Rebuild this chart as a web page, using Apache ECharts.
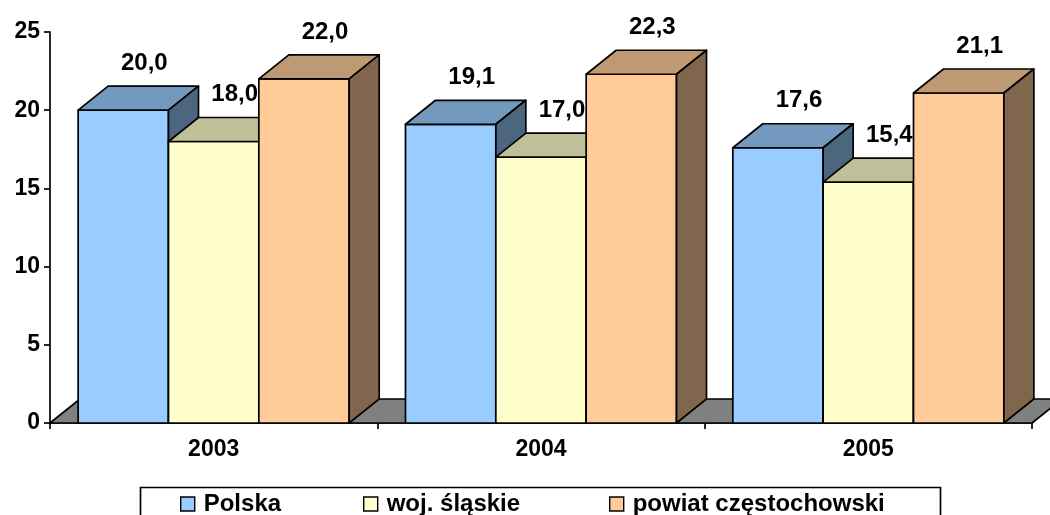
<!DOCTYPE html>
<html>
<head>
<meta charset="utf-8">
<script src="https://cdn.jsdelivr.net/npm/echarts@6/dist/echarts.min.js"></script>
<style>
  html, body { margin: 0; padding: 0; background: #fff; }
  #chart { width: 1050px; height: 515px; }
</style>
</head>
<body>
<div id="chart"></div>
<script>
// Categories and values
const years = ['2003', '2004', '2005'];
const seriesNames = ['Polska', 'woj. śląskie', 'powiat częstochowski'];
const polska = [20.0, 19.1, 17.6];
const slaskie = [18.0, 17.0, 15.4];
const powiat = [22.0, 22.3, 21.1];
const yMax = 25;
const yStep = 5;

const FONT = '"Liberation Sans", Arial, Helvetica, sans-serif';
// oblique projection of the bar depth
const DX = 30, DY = -24;

const palettes = [
  { front: '#99CCFF', top: '#7399BF', side: '#4D6680' },
  { front: '#FFFFCC', top: '#BFBF99', side: '#808066' },
  { front: '#FFCC99', top: '#BF9973', side: '#80664D' }
];

function fmt(v) { return v.toFixed(1).replace('.', ','); }

function edge(fill) {
  return { fill: fill, stroke: '#000', lineWidth: 1.7, lineJoin: 'round' };
}

// draws one 3D box per category: front, top and right-side faces plus value label
function barRenderer(slot) {
  return function (params, api) {
    const idx = api.value(0);
    const val = api.value(1);
    const base = api.coord([idx, 0]);
    const tip = api.coord([idx, val]);
    const band = api.size([1, 0])[0];
    const w = band * 0.276;
    const x0 = base[0] - 1.5 * w + slot * w;
    const x1 = x0 + w;
    const yb = base[1], yt = tip[1];
    const c = palettes[slot];
    return {
      type: 'group',
      children: [
        { type: 'polygon', shape: { points: [[x0, yb], [x1, yb], [x1, yt], [x0, yt]] }, style: edge(c.front) },
        { type: 'polygon', shape: { points: [[x0, yt], [x1, yt], [x1 + DX, yt + DY], [x0 + DX, yt + DY]] }, style: edge(c.top) },
        { type: 'polygon', shape: { points: [[x1, yb], [x1 + DX, yb + DY], [x1 + DX, yt + DY], [x1, yt]] }, style: edge(c.side) },
        {
          type: 'text', z2: 50,
          style: {
            text: fmt(val), x: (x0 + x1) / 2 + 21, y: yt - 47,
            align: 'center', verticalAlign: 'middle',
            fontFamily: FONT, fontSize: 24, fontWeight: 'bold', fill: '#000'
          }
        }
      ]
    };
  };
}

// grey floor under the bars
function floorRenderer(params, api) {
  const cs = params.coordSys;
  const l = cs.x, r = cs.x + cs.width, b = cs.y + cs.height;
  return {
    type: 'polygon',
    shape: { points: [[l, b], [r, b], [r + DX, b + DY], [l + DX, b + DY]] },
    style: edge('#808080')
  };
}

const valueSets = [polska, slaskie, powiat];
const legendLeft = [180, 363, 609];

const chart = echarts.init(document.getElementById('chart'), null, { renderer: 'canvas' });
chart.setOption({
  animation: false,
  backgroundColor: '#fff',
  grid: { left: 50, top: 32, width: 982, height: 391, containLabel: false },
  xAxis: {
    type: 'category',
    data: years,
    boundaryGap: true,
    axisLine: { show: true, lineStyle: { color: '#000', width: 1.7 } },
    axisTick: { show: true, length: 6, lineStyle: { color: '#000', width: 1.7 } },
    axisLabel: { margin: 15, color: '#000', fontFamily: FONT, fontSize: 23, fontWeight: 'bold' },
    splitLine: { show: false }
  },
  yAxis: {
    type: 'value',
    min: 0, max: yMax, interval: yStep,
    axisLine: { show: true, lineStyle: { color: '#000', width: 1.7 } },
    axisTick: { show: true, length: 6, lineStyle: { color: '#000', width: 1.7 } },
    axisLabel: { margin: 10, color: '#000', fontFamily: FONT, fontSize: 23, fontWeight: 'bold' },
    splitLine: { show: false }
  },
  legend: seriesNames.map((n, i) => ({
    data: [n],
    left: legendLeft[i], top: 492,
    padding: 0,
    icon: 'rect', itemWidth: 14, itemHeight: 14,
    itemStyle: { borderColor: '#000', borderWidth: 1.4 },
    textStyle: { color: '#000', fontFamily: FONT, fontSize: 24, fontWeight: 'bold', padding: [0, 0, 0, 4] }
  })),
  graphic: [{
    type: 'rect', left: 138, top: 485, silent: true,
    shape: { x: 0, y: 0, width: 800, height: 44 },
    style: { fill: 'none', stroke: '#000', lineWidth: 1.7 }
  }],
  series: [
    {
      type: 'custom', name: 'floor', z: 1, silent: true,
      renderItem: floorRenderer,
      data: [[0, 0]], encode: { x: 0, y: 1 }
    }
  ].concat(seriesNames.map((n, i) => ({
    type: 'custom', name: n, z: 2,
    itemStyle: { color: palettes[i].front },
    renderItem: barRenderer(i),
    data: valueSets[i].map((v, k) => [k, v]),
    encode: { x: 0, y: 1 }
  })))
});
</script>
</body>
</html>
